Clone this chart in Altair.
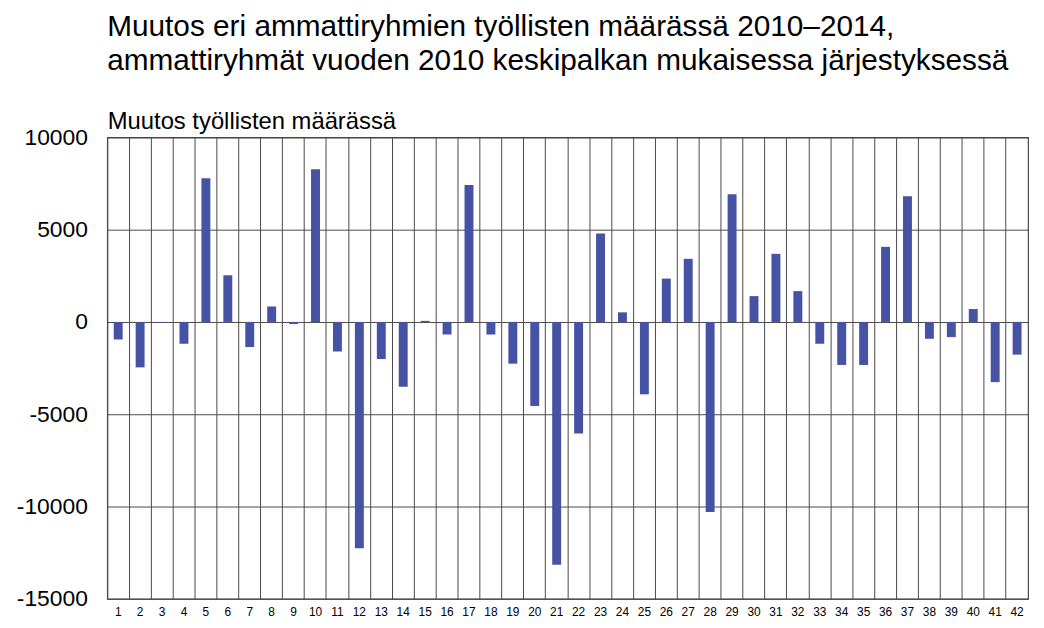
import altair as alt
import pandas as pd

categories = ["1", "2", "3", "4", "5", "6", "7", "8", "9", "10", "11", "12", "13", "14",
              "15", "16", "17", "18", "19", "20", "21", "22", "23", "24", "25", "26", "27", "28",
              "29", "30", "31", "32", "33", "34", "35", "36", "37", "38", "39", "40", "41", "42"]
values = [-950, -2460, -50, -1180, 7780, 2530, -1360, 840, -110, 8280,
          -1600, -12260, -2010, -3510, 60, -680, 7420, -680, -2260, -4550,
          -13150, -6040, 4790, 520, -3920, 2350, 3420, -10290, 6920, 1400,
          3690, 1670, -1180, -2330, -2330, 4070, 6810, -910, -820, 700,
          -3260, -1770]
y_ticks = [-15000, -10000, -5000, 0, 5000, 10000]

title_lines = ["Muutos eri ammattiryhmien työllisten määrässä 2010–2014,",
               "ammattiryhmät vuoden 2010 keskipalkan mukaisessa järjestyksessä"]
y_title = "Muutos työllisten määrässä"

df = pd.DataFrame({"ryhma": categories, "muutos": values})

FONT = "Liberation Sans"
GRID = "#4a4a4a"

chart = alt.Chart(df).mark_bar(size=9, color="#4652A3").encode(
    x=alt.X("ryhma:N", sort=categories,
            scale=alt.Scale(paddingInner=0, paddingOuter=0),
            axis=alt.Axis(title=None, labelAngle=0, labelFontSize=12, labelFont=FONT,
                          labelColor="black", labelPadding=8, ticks=False, domain=False,
                          grid=True, bandPosition=0, gridColor=GRID, gridWidth=1,
                          gridOpacity=1)),
    y=alt.Y("muutos:Q",
            scale=alt.Scale(domain=[-15000, 10000], nice=False, zero=False),
            axis=alt.Axis(values=y_ticks, labelExpr="'' + datum.value",
                          title=y_title, titleAngle=0,
                          titleAlign="left", titleBaseline="alphabetic", titleX=0, titleY=-9,
                          titleFontSize=24, titleFont=FONT, titleFontWeight="normal",
                          titleColor="black", labelFontSize=23, labelFont=FONT,
                          labelColor="black", labelPadding=20, ticks=False, domain=False,
                          grid=True, gridColor=GRID, gridWidth=1, gridOpacity=1)),
).properties(
    width=928,
    height=465,
    autosize=alt.AutoSizeParams(type="none"),
    padding={"left": 100, "top": 128, "right": 8, "bottom": 25},
    title=alt.Title(text=title_lines, anchor="start", frame="group", fontSize=30,
                    font=FONT, fontWeight="normal", color="black", lineHeight=34,
                    offset=34),
).configure_view(stroke=GRID, strokeWidth=1.2)

chart.save("out.html", embed_options={"renderer": "svg", "actions": False})
